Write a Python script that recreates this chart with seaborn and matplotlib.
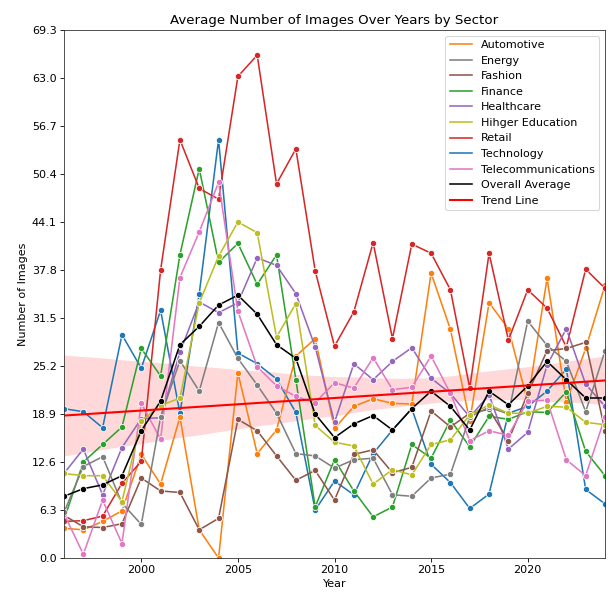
import numpy as np
import pandas as pd
import matplotlib
matplotlib.use("Agg")
import matplotlib.pyplot as plt
from matplotlib.lines import Line2D
import seaborn as sns

years = list(range(1996, 2025))

automotive = [3.9, 3.7, 4.8, 6.2, 13.6, 9.7, 18.5, 3.7, 0.0, 24.3, 13.7, 16.8, 26.5, 28.8, 17.0,
              19.9, 20.9, 20.3, 20.2, 37.4, 30.0, 18.0, 33.5, 30.1, 20.5, 36.7, 20.5, 27.5, 35.8]
energy = [6.0, 12.0, 13.3, 7.2, 4.4, 18.5, 25.9, 21.9, 30.9, 26.2, 22.7, 19.0, 13.7, 13.4, 11.8,
          12.9, 13.1, 8.3, 8.1, 10.5, 11.0, 18.5, 19.8, 18.9, 31.1, 27.9, 25.8, 19.2, 27.2]
fashion = [5.6, 4.1, 4.0, 4.5, 10.5, 8.8, 8.6, 3.7, 5.2, 18.2, 16.7, 13.4, 10.2, 11.5, 7.6,
           13.6, 14.2, 11.2, 11.9, 19.3, 17.2, 19.0, 19.5, 15.4, 21.6, 27.2, 27.5, 28.3, 16.7]
finance = [5.0, 12.6, 14.9, 17.2, 27.5, 23.9, 39.8, 51.1, 38.8, 41.3, 35.9, 39.8, 23.4, 6.7, 12.9,
           8.8, 5.4, 6.7, 14.9, 13.1, 18.1, 14.6, 18.6, 18.2, 19.2, 19.1, 21.8, 14.0, 10.8]
healthcare = [11.1, 14.3, 8.3, 14.5, 18.3, 18.4, 27.0, 33.6, 32.2, 33.5, 39.4, 38.4, 34.7, 27.7, 17.8,
              25.5, 23.4, 25.8, 27.6, 23.6, 21.6, 18.5, 21.4, 14.3, 16.5, 25.3, 30.1, 22.8, 19.9]
higher_edu = [11.1, 10.8, 10.8, 7.4, 18.0, 20.0, 21.0, 33.5, 39.6, 44.1, 42.7, 29.0, 33.4, 17.4, 15.2,
              14.7, 9.7, 11.6, 10.9, 14.9, 15.5, 18.8, 20.1, 19.0, 19.0, 19.9, 19.8, 17.8, 17.5]
retail = [4.8, 4.9, 5.5, 9.8, 12.7, 37.8, 54.9, 48.5, 47.1, 63.2, 66.0, 49.1, 53.7, 37.7, 27.8,
          32.3, 41.4, 28.8, 41.2, 40.0, 35.2, 22.3, 40.0, 28.6, 35.2, 32.8, 27.7, 37.9, 35.4]
technology = [19.6, 19.2, 17.1, 29.3, 24.9, 32.5, 19.0, 34.7, 54.9, 26.9, 25.5, 23.5, 19.1, 6.3, 10.1,
              8.3, 13.7, 16.8, 19.6, 12.3, 9.9, 6.5, 8.4, 19.0, 19.9, 21.9, 24.8, 9.0, 7.1]
telecom = [5.8, 0.5, 7.6, 1.9, 20.3, 15.6, 36.8, 42.8, 49.3, 32.4, 25.1, 22.6, 21.2, 20.4, 23.0,
           22.3, 26.3, 22.1, 22.4, 26.5, 21.6, 15.4, 16.7, 16.1, 20.6, 20.7, 12.9, 10.8, 18.5]
overall_avg = [8.1, 9.1, 9.6, 10.8, 16.7, 20.6, 28.0, 30.4, 33.2, 34.5, 32.0, 28.0, 26.2, 18.9, 15.8,
               17.6, 18.7, 16.8, 19.6, 21.9, 19.9, 16.8, 21.9, 20.1, 22.6, 25.8, 23.4, 21.0, 21.0]

sectors = ["Automotive", "Energy", "Fashion", "Finance", "Healthcare",
           "Hihger Education", "Retail", "Technology", "Telecommunications"]
series = [automotive, energy, fashion, finance, healthcare, higher_edu, retail, technology, telecom]
colors = ["#ff7f0e", "#7f7f7f", "#8c564b", "#2ca02c", "#9467bd",
          "#bcbd22", "#d62728", "#1f77b4", "#e377c2"]
palette = dict(zip(sectors, colors))

df = pd.DataFrame({
    "Year": np.tile(years, len(sectors)),
    "Images": np.concatenate(series),
    "Sector": np.repeat(sectors, len(years)),
})
avg_df = pd.DataFrame({"Year": years, "Images": overall_avg})

plt.rcParams["font.size"] = 10.7
plt.rcParams["axes.edgecolor"] = "#333333"

DPI = 75
fig = plt.figure(figsize=(611 / DPI, 592 / DPI), dpi=DPI)
ax = fig.add_axes([64 / 611, 1 - 558 / 592, (605 - 64) / 611, (558 - 30) / 592])

draw_order = ["Technology", "Automotive", "Finance", "Retail", "Healthcare",
              "Fashion", "Telecommunications", "Energy", "Hihger Education"]
sns.lineplot(data=df, x="Year", y="Images", hue="Sector", hue_order=draw_order,
             palette=palette, marker="o", ax=ax, legend=False)
sns.lineplot(data=avg_df, x="Year", y="Images", color="black", marker="o", ax=ax, legend=False)
sns.regplot(data=avg_df, x="Year", y="Images", scatter=False, color="red", ax=ax,
            line_kws={"linewidth": 2}, seed=3, truncate=False)

ax.set_xlim(1996, 2024)
ymax = 69.3
ax.set_ylim(0, ymax)
ax.set_yticks(np.linspace(0, ymax, 12))
ax.set_yticklabels([f"{v:.1f}" for v in np.linspace(0, ymax, 12)])
ax.set_title("Average Number of Images Over Years by Sector")
ax.set_xlabel("Year")
ax.set_ylabel("Number of Images")

handles = [Line2D([], [], color=palette[s], lw=1.5) for s in sectors]
handles.append(Line2D([], [], color="black", lw=1.5))
handles.append(Line2D([], [], color="red", lw=2))
labels = sectors + ["Overall Average", "Trend Line"]
ax.legend(handles, labels, loc="upper right", fontsize=10.7)

fig.savefig("out.png", dpi=DPI)
